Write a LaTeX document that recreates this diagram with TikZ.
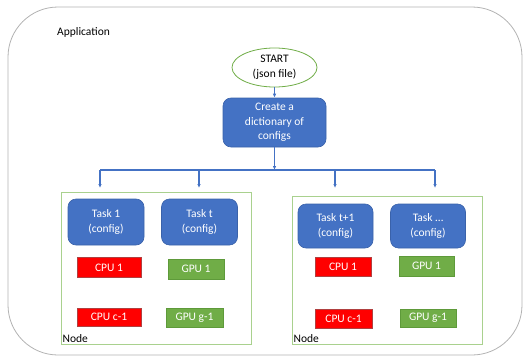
\documentclass[tikz,border=0pt]{standalone}
\usepackage{fontspec}
\setmainfont{Carlito}
\usetikzlibrary{arrows.meta, positioning, shapes.geometric, calc}
\definecolor{officeBlue}{HTML}{4472C4}
\definecolor{officeBlueDark}{HTML}{3A62AA}
\definecolor{officeGreen}{HTML}{70AD47}
\definecolor{gpuBorder}{HTML}{5E9A3A}
\definecolor{hostGreen}{HTML}{A9D18E}
\definecolor{cpuBorder}{HTML}{B04040}
\tikzset{
    appFrame/.style={draw=black!30, line width=0.8pt, rounded corners=50pt},
    hostBox/.style={rectangle, draw=hostGreen, line width=1pt, minimum width=190pt},
    startNode/.style={ellipse, draw=officeGreen, fill=white, line width=0.8pt, minimum width=85pt, minimum height=39pt, inner sep=0pt, align=center},
    taskBox/.style={rectangle, rounded corners=8pt, draw=officeBlueDark, fill=officeBlue, text=white, line width=0.6pt, minimum width=76pt, minimum height=46pt, inner sep=1pt, align=center},
    cpuBox/.style={rectangle, draw=cpuBorder, fill=red, text=white, line width=0.6pt, minimum width=64pt, minimum height=20pt, inner sep=1pt},
    gpuBox/.style={rectangle, draw=gpuBorder, fill=officeGreen, text=white, line width=0.6pt, minimum width=56pt, minimum height=20pt, inner sep=1pt},
    flowLine/.style={draw=officeBlue, line width=0.8pt},
    busLine/.style={draw=officeBlue, line width=1.4pt}
}

\begin{document}
\begin{tikzpicture}[x=1pt, y=-1pt, font=\fontsize{11.5}{14.5}\selectfont, >={Latex[length=4pt, width=3.5pt]}]
        \useasboundingbox (0,0) rectangle (524,356);

        % Application frame
        \draw[appFrame] (8,7) rectangle (522,355);
        \node[anchor=west, inner sep=0pt] (appLabel) at (57,32) {Application};

        % 1. Start and dictionary
        \node[startNode] (start) at (274.5,67.5) {START\\(json file)};
        \node[taskBox, minimum width=103pt, minimum height=49pt] (dict) at (274.5,122.5) {Create a\\dictionary of\\configs};
        \draw[flowLine, ->] (start) -- (dict);

        % 2. Bus to the tasks
        \coordinate (busL) at (100,170);
        \coordinate (busR) at (435,170);
        \coordinate (busM) at (dict.south |- busL);
        \draw[flowLine, ->] (dict) -- (busM);
        \draw[busLine] (busL) -- (busR);
        \foreach \x/\n in {100/1, 199/2, 335/3, 435/4} {
            \coordinate (drop\n) at (\x,188);
            \draw[busLine, ->] (drop\n |- busL) -- (drop\n);
        }

        % 3. Compute nodes
        \node[hostBox, minimum height=152pt] (hostA) at (156,268) {};
        \node[hostBox, minimum height=148pt] (hostB) at (387,270) {};
        \node[anchor=south west, inner sep=2pt] (hostALabel) at (hostA.south west) {Node};
        \node[anchor=south west, inner sep=2pt] (hostBLabel) at (hostB.south west) {Node};

        % 4. Tasks
        \node[taskBox] (task1) at (106,222) {Task 1\\(config)};
        \node[taskBox] (taskT) at (199.5,222) {Task t\\(config)};
        \node[taskBox, minimum width=75pt, minimum height=44pt] (taskT1) at (335.5,226) {Task t+1\\(config)};
        \node[taskBox, minimum width=75pt, minimum height=44pt] (taskDots) at (428,226) {Task \dots\\(config)};

        % 5. Devices
        \node[cpuBox] (cpuA1) at (109,267.5) {CPU 1};
        \node[gpuBox] (gpuA1) at (196,269) {GPU 1};
        \node[cpuBox, minimum height=18pt] (cpuAc) at (109,317) {CPU c-1};
        \node[gpuBox, minimum width=57pt, minimum height=19pt] (gpuAg) at (194.5,317.5) {GPU g-1};
        \node[cpuBox, minimum width=56pt, minimum height=19pt] (cpuB1) at (343,266.5) {CPU 1};
        \node[gpuBox, minimum width=55pt] (gpuB1) at (426.5,266) {GPU 1};
        \node[cpuBox, minimum width=57pt, minimum height=19pt] (cpuBc) at (343.5,318.5) {CPU c-1};
        \node[gpuBox, minimum height=18pt] (gpuBg) at (428,318) {GPU g-1};

    \end{tikzpicture}
\end{document}
